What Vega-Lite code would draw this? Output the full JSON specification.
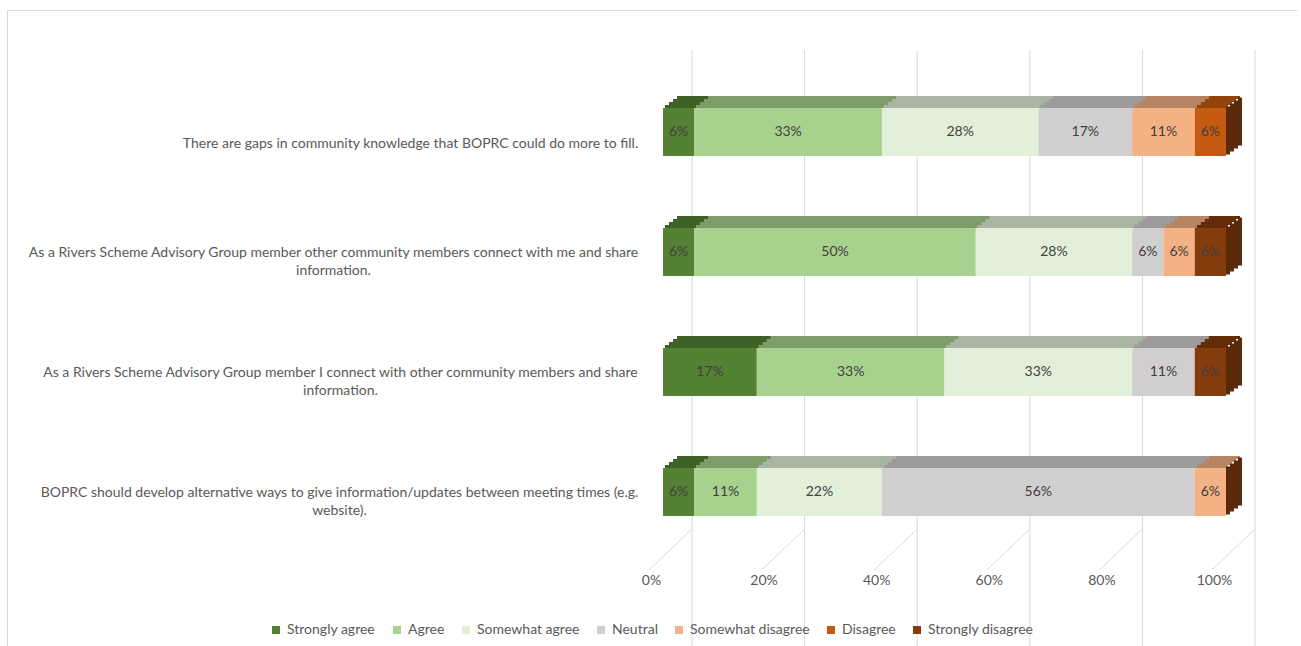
{
  "$schema": "https://vega.github.io/schema/vega-lite/v6.json",
  "width": 1290,
  "height": 640,
  "autosize": {"type": "none"},
  "padding": {"left": 7, "top": 10, "right": 0, "bottom": 0},
  "background": "white",
  "config": {
    "font": "Lato",
    "view": {"stroke": "#D9D9D9", "strokeWidth": 1},
    "axisX": {"offset": -98, "labelOffset": -12, "labelPadding": 21, "labelFlush": false, "labelBound": false, "labelOverlap": false, "ticks": false, "domain": false, "grid": false, "labelFont": "Lato", "labelFontSize": 14, "labelColor": "#595959", "values": [0, 0.2, 0.4, 0.6, 0.8, 1], "format": ".0%"},
    "legend": {"orient": "none", "legendX": 262, "legendY": 613, "direction": "horizontal", "symbolType": "square", "symbolSize": 64, "symbolStrokeWidth": 0, "labelFont": "Lato", "labelFontSize": 14, "labelColor": "#595959", "columnPadding": 14, "labelOffset": 4, "title": null}
  },
  "datasets": {
    "main": [
      {"statement": "There are gaps in community knowledge that BOPRC could do more to fill.", "response": "Strongly agree", "level": 1, "value": 0.05556},
      {"statement": "There are gaps in community knowledge that BOPRC could do more to fill.", "response": "Agree", "level": 2, "value": 0.33333},
      {"statement": "There are gaps in community knowledge that BOPRC could do more to fill.", "response": "Somewhat agree", "level": 3, "value": 0.27778},
      {"statement": "There are gaps in community knowledge that BOPRC could do more to fill.", "response": "Neutral", "level": 4, "value": 0.16667},
      {"statement": "There are gaps in community knowledge that BOPRC could do more to fill.", "response": "Somewhat disagree", "level": 5, "value": 0.11111},
      {"statement": "There are gaps in community knowledge that BOPRC could do more to fill.", "response": "Disagree", "level": 6, "value": 0.05555},
      {"statement": "As a Rivers Scheme Advisory Group member other community members connect with me and share information.", "response": "Strongly agree", "level": 1, "value": 0.05556},
      {"statement": "As a Rivers Scheme Advisory Group member other community members connect with me and share information.", "response": "Agree", "level": 2, "value": 0.5},
      {"statement": "As a Rivers Scheme Advisory Group member other community members connect with me and share information.", "response": "Somewhat agree", "level": 3, "value": 0.27778},
      {"statement": "As a Rivers Scheme Advisory Group member other community members connect with me and share information.", "response": "Neutral", "level": 4, "value": 0.05556},
      {"statement": "As a Rivers Scheme Advisory Group member other community members connect with me and share information.", "response": "Somewhat disagree", "level": 5, "value": 0.05555},
      {"statement": "As a Rivers Scheme Advisory Group member other community members connect with me and share information.", "response": "Strongly disagree", "level": 7, "value": 0.05555},
      {"statement": "As a Rivers Scheme Advisory Group member I connect with other community members and share information.", "response": "Strongly agree", "level": 1, "value": 0.16667},
      {"statement": "As a Rivers Scheme Advisory Group member I connect with other community members and share information.", "response": "Agree", "level": 2, "value": 0.33333},
      {"statement": "As a Rivers Scheme Advisory Group member I connect with other community members and share information.", "response": "Somewhat agree", "level": 3, "value": 0.33333},
      {"statement": "As a Rivers Scheme Advisory Group member I connect with other community members and share information.", "response": "Neutral", "level": 4, "value": 0.11111},
      {"statement": "As a Rivers Scheme Advisory Group member I connect with other community members and share information.", "response": "Strongly disagree", "level": 7, "value": 0.05555},
      {"statement": "BOPRC should develop alternative ways to give information/updates between meeting times (e.g. website).", "response": "Strongly agree", "level": 1, "value": 0.05556},
      {"statement": "BOPRC should develop alternative ways to give information/updates between meeting times (e.g. website).", "response": "Agree", "level": 2, "value": 0.11111},
      {"statement": "BOPRC should develop alternative ways to give information/updates between meeting times (e.g. website).", "response": "Somewhat agree", "level": 3, "value": 0.22222},
      {"statement": "BOPRC should develop alternative ways to give information/updates between meeting times (e.g. website).", "response": "Neutral", "level": 4, "value": 0.55556},
      {"statement": "BOPRC should develop alternative ways to give information/updates between meeting times (e.g. website).", "response": "Somewhat disagree", "level": 5, "value": 0.05555}
    ],
    "ticks": [{"t": 0}, {"t": 0.2}, {"t": 0.4}, {"t": 0.6}, {"t": 0.8}, {"t": 1}]
  },
  "resolve": {"scale": {"y": "independent"}, "axis": {"y": "independent"}},
  "layer": [
    {
      "data": {"name": "ticks"},
      "layer": [
        {
          "mark": {"type": "rule", "color": "#D9D9D9", "strokeWidth": 1, "xOffset": 29, "x2Offset": 29, "yOffset": 40, "y2Offset": -121},
          "encoding": {
            "x": {"field": "t", "type": "quantitative", "title": null, "scale": {"domain": [0, 1], "range": [656, 1219]}, "axis": {"title": null, "offset": -98, "labelOffset": -12, "labelPadding": 21, "labelFlush": false, "labelBound": false, "ticks": false, "domain": false, "grid": false, "values": [0, 0.2, 0.4, 0.6, 0.8, 1], "format": ".0%"}}
          }
        },
        {
          "mark": {"type": "rule", "color": "#D9D9D9", "strokeWidth": 1, "xOffset": 29, "x2Offset": -14},
          "encoding": {
            "x": {"field": "t", "type": "quantitative", "title": null},
            "x2": {"field": "t"},
            "y": {"datum": 0, "type": "quantitative", "title": null, "axis": null, "scale": {"domain": [0, 1], "range": [519, 560]}},
            "y2": {"datum": 1}
          }
        }
      ]
    },
    {
      "data": {"name": "main"},
      "encoding": {
        "y": {
          "field": "statement", "type": "nominal", "sort": null, "title": null,
          "scale": {"range": [62, 542], "paddingInner": 0.6, "paddingOuter": 0.3},
          "axis": {
            "orient": "left", "offset": -630, "ticks": false, "domain": false, "grid": false,
            "labelFont": "Lato", "labelFontSize": 14, "labelColor": "#595959", "labelLineHeight": 18,
            "labelLimit": 1000, "labelAlign": "center", "labelBaseline": "middle",
            "labelExpr": "split(replace(replace(datum.label, ' and share information', ' and share|information'), '(e.g. website', '(e.g.|website'), '|')",
            "labelOffset": {
              "condition": {"test": "indexof(datum.value, 'There are gaps') == 0", "value": 12},
              "value": 1
            },
            "labelPadding": {
              "condition": [
                {"test": "indexof(datum.value, 'There are gaps') == 0", "value": 227},
                {"test": "indexof(datum.value, 'other community members connect') > 0", "value": 304},
                {"test": "indexof(datum.value, 'I connect') > 0", "value": 297}
              ],
              "value": 298
            }
          }
        },
        "order": {"field": "level", "type": "quantitative"}
      },
      "layer": [
        {
          "mark": {"type": "bar", "size": 3, "yOffset": -25.5, "xOffset": 2, "x2Offset": 2},
          "encoding": {
            "x": {"field": "value", "type": "quantitative", "stack": "zero", "title": null},
            "color": {"field": "response", "type": "nominal"}
          }
        },
        {
          "mark": {"type": "bar", "size": 3, "yOffset": -28.5, "xOffset": 6, "x2Offset": 6},
          "encoding": {
            "x": {"field": "value", "type": "quantitative", "stack": "zero", "title": null},
            "color": {"field": "response", "type": "nominal"}
          }
        },
        {
          "mark": {"type": "bar", "size": 3, "yOffset": -31.5, "xOffset": 10, "x2Offset": 10},
          "encoding": {
            "x": {"field": "value", "type": "quantitative", "stack": "zero", "title": null},
            "color": {"field": "response", "type": "nominal"}
          }
        },
        {
          "mark": {"type": "bar", "size": 3, "yOffset": -34.5, "xOffset": 14, "x2Offset": 14},
          "encoding": {
            "x": {"field": "value", "type": "quantitative", "stack": "zero", "title": null},
            "color": {"field": "response", "type": "nominal"}
          }
        },
        {
          "mark": {"type": "bar", "size": 3, "yOffset": -25.5, "xOffset": 2, "x2Offset": 2, "color": "black", "opacity": 0.25},
          "encoding": {
            "x": {"field": "value", "type": "quantitative", "stack": "zero", "title": null},
            "detail": {"field": "response", "type": "nominal"}
          }
        },
        {
          "mark": {"type": "bar", "size": 3, "yOffset": -28.5, "xOffset": 6, "x2Offset": 6, "color": "black", "opacity": 0.25},
          "encoding": {
            "x": {"field": "value", "type": "quantitative", "stack": "zero", "title": null},
            "detail": {"field": "response", "type": "nominal"}
          }
        },
        {
          "mark": {"type": "bar", "size": 3, "yOffset": -31.5, "xOffset": 10, "x2Offset": 10, "color": "black", "opacity": 0.25},
          "encoding": {
            "x": {"field": "value", "type": "quantitative", "stack": "zero", "title": null},
            "detail": {"field": "response", "type": "nominal"}
          }
        },
        {
          "mark": {"type": "bar", "size": 3, "yOffset": -34.5, "xOffset": 14, "x2Offset": 14, "color": "black", "opacity": 0.25},
          "encoding": {
            "x": {"field": "value", "type": "quantitative", "stack": "zero", "title": null},
            "detail": {"field": "response", "type": "nominal"}
          }
        },
        {
          "transform": [{"filter": "datum.level == 1"}],
          "mark": {"type": "bar", "color": "#5B2A0A", "xOffset": 0, "x2Offset": 4, "yOffset": -1.5},
          "encoding": {"x": {"datum": 1, "type": "quantitative"}, "x2": {"datum": 1}}
        },
        {
          "transform": [{"filter": "datum.level == 1"}],
          "mark": {"type": "bar", "color": "#5B2A0A", "xOffset": 4, "x2Offset": 8, "yOffset": -4.5},
          "encoding": {"x": {"datum": 1, "type": "quantitative"}, "x2": {"datum": 1}}
        },
        {
          "transform": [{"filter": "datum.level == 1"}],
          "mark": {"type": "bar", "color": "#5B2A0A", "xOffset": 8, "x2Offset": 12, "yOffset": -7.5},
          "encoding": {"x": {"datum": 1, "type": "quantitative"}, "x2": {"datum": 1}}
        },
        {
          "transform": [{"filter": "datum.level == 1"}],
          "mark": {"type": "bar", "color": "#5B2A0A", "xOffset": 12, "x2Offset": 16, "yOffset": -10.5},
          "encoding": {"x": {"datum": 1, "type": "quantitative"}, "x2": {"datum": 1}}
        },
        {
          "mark": {"type": "bar"},
          "encoding": {
            "x": {"field": "value", "type": "quantitative", "stack": "zero", "title": null},
            "color": {
              "field": "response", "type": "nominal",
              "scale": {"domain": ["Strongly agree", "Agree", "Somewhat agree", "Neutral", "Somewhat disagree", "Disagree", "Strongly disagree"], "range": ["#548235", "#A9D18E", "#E2F0D9", "#D0CECE", "#F4B183", "#C55A11", "#843C0C"]},
              "legend": {"orient": "none", "legendX": 262, "legendY": 613, "direction": "horizontal", "title": null}
            }
          }
        },
        {
          "mark": {"type": "text", "font": "Lato", "fontSize": 14, "color": "#404040", "baseline": "middle", "align": "center"},
          "encoding": {
            "x": {"field": "value", "type": "quantitative", "stack": "zero", "bandPosition": 0.5, "title": null},
            "detail": {"field": "response", "type": "nominal"},
            "text": {"field": "value", "type": "quantitative", "format": ".0%"}
          }
        }
      ]
    }
  ]
}
